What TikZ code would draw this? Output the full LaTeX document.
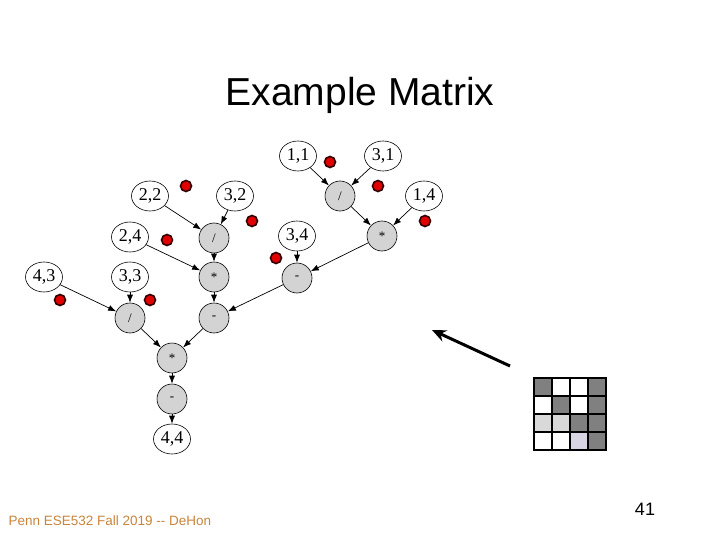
\documentclass[tikz,border=0pt]{standalone}
\usepackage{fontspec}
\setmainfont{Liberation Sans}
\newfontfamily\serifnode{Liberation Serif}
\usetikzlibrary{shapes.geometric,arrows.meta}
\definecolor{opgray}{HTML}{D3D3D3}
\definecolor{dotred}{HTML}{E00000}
\definecolor{footc}{HTML}{C8843C}
\definecolor{darkcell}{HTML}{808080}
\definecolor{lightcell}{HTML}{D9D9D9}
\definecolor{lavcell}{HTML}{D8D4E4}
\tikzset{
  leaf/.style={ellipse,draw=black,line width=0.6pt,fill=white,minimum width=37pt,minimum height=30pt,inner sep=0pt,font=\serifnode\fontsize{18}{18}\selectfont},
  op/.style={circle,draw=black,line width=0.6pt,fill=opgray,minimum size=30pt,inner sep=0pt,font=\serifnode\fontsize{13}{13}\selectfont},
  edge/.style={-{Latex[length=8pt,width=6pt]},line width=0.7pt},
  rdot/.style={circle,draw=black!80!red,line width=1.6pt,fill=dotred,minimum size=11pt,inner sep=0pt},
  cell/.style={draw=black,line width=1.8pt}
}
\begin{document}
\begin{tikzpicture}[x=1pt,y=-1pt]
\useasboundingbox (0,0) rectangle (720,540);
\node (title) at (360,95) {\fontsize{39}{39}\selectfont Example Matrix};
% right tree
\node[leaf] (l11) at (298,156) {1,1};
\node[leaf] (l31) at (383,156) {3,1};
\node[op] (d1) at (340,196) {/};
\node[leaf] (l14) at (424,196) {1,4};
\node[op] (m1) at (382,236) {*};
\node[leaf] (l34) at (297,236) {3,4};
\node[op] (s1) at (297,278) {-};
% left tree
\node[leaf] (l22) at (150,196) {2,2};
\node[leaf] (l32) at (235,196) {3,2};
\node[op] (d2) at (214,238) {/};
\node[leaf] (l24) at (130,237) {2,4};
\node[op] (m2) at (214,277) {*};
\node[leaf] (l43) at (44,277) {4,3};
\node[leaf] (l33) at (130,277) {3,3};
\node[op] (d3) at (130,318) {/};
\node[op] (s2) at (214,318) {-};
\node[op] (m3) at (172,358) {*};
\node[op] (s3) at (172,399) {-};
\node[leaf] (l44) at (172,439) {4,4};
% edges
\draw[edge] (l11) -- (d1);
\draw[edge] (l31) -- (d1);
\draw[edge] (d1) -- (m1);
\draw[edge] (l14) -- (m1);
\draw[edge] (m1) -- (s1);
\draw[edge] (l34) -- (s1);
\draw[edge] (s1) -- (s2);
\draw[edge] (l22) -- (d2);
\draw[edge] (l32) -- (d2);
\draw[edge] (d2) -- (m2);
\draw[edge] (l24) -- (m2);
\draw[edge] (m2) -- (s2);
\draw[edge] (l43) -- (d3);
\draw[edge] (l33) -- (d3);
\draw[edge] (d3) -- (m3);
\draw[edge] (s2) -- (m3);
\draw[edge] (m3) -- (s3);
\draw[edge] (s3) -- (l44);
% red dots
\node[rdot] (r1) at (186,186) {};
\node[rdot] (r2) at (252,221) {};
\node[rdot] (r3) at (167,240) {};
\node[rdot] (r4) at (150,300) {};
\node[rdot] (r5) at (60,300) {};
\node[rdot] (r6) at (276,258) {};
\node[rdot] (r7) at (330,162) {};
\node[rdot] (r8) at (378,186) {};
\node[rdot] (r9) at (425,221) {};
% big arrow
\coordinate (atail) at (510,366);
\coordinate (ahead) at (432,330);
\draw[line width=3pt,-{Stealth[length=14pt,width=12pt]}] (atail) -- (ahead);
% matrix
\foreach \r/\c/\col in {0/0/darkcell,0/1/white,0/2/white,0/3/darkcell,
                        1/0/white,1/1/darkcell,1/2/white,1/3/darkcell,
                        2/0/lightcell,2/1/lightcell,2/2/darkcell,2/3/darkcell,
                        3/0/white,3/1/white,3/2/lavcell,3/3/darkcell}{
  \fill[\col] ({534+\c*18},{378+\r*18}) rectangle ++(18,18);
}
\foreach \i in {0,...,4}{
  \draw[line width=1.8pt] ({534+\i*18},377.1) -- ({534+\i*18},450.9);
  \draw[line width=1.8pt] (533.1,{378+\i*18}) -- (606.9,{378+\i*18});
}
% footer
\node[text=footc,anchor=west] (foot) at (5,521) {\fontsize{13.5}{13.5}\selectfont Penn ESE532 Fall 2019 {-}{-} DeHon};
\node (pnum) at (645,509) {\fontsize{18}{18}\selectfont 41};
\end{tikzpicture}
\end{document}
